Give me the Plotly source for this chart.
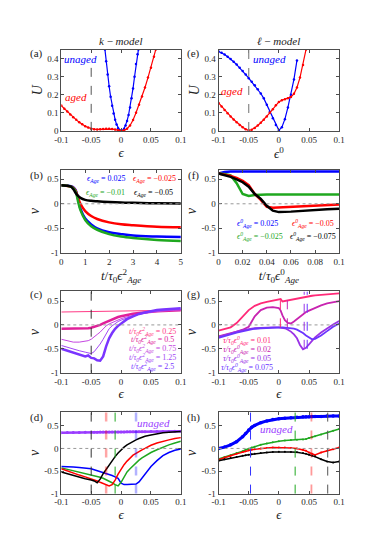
import plotly.graph_objects as go
from plotly.subplots import make_subplots

# ---------------- (a) k-model potential ----------------
eps_a_unaged = [-0.027, -0.025, -0.0225, -0.02, -0.0175, -0.015, -0.0125, -0.01, -0.0075, -0.005, -0.0025, 0.0,
                0.0025, 0.005, 0.0075, 0.01, 0.0125, 0.015, 0.0175, 0.02, 0.0225, 0.025, 0.0275, 0.029]
U_a_unaged = [0.45, 0.386, 0.312, 0.247, 0.189, 0.139, 0.096, 0.062, 0.035, 0.015, 0.004, 0.0,
              0.002, 0.012, 0.03, 0.055, 0.088, 0.13, 0.18, 0.235, 0.3, 0.37, 0.425, 0.45]
eps_a_aged = [-0.1, -0.095, -0.09, -0.085, -0.08, -0.075, -0.07, -0.065, -0.06, -0.055, -0.05, -0.045, -0.04,
              -0.035, -0.03, -0.025, -0.02, -0.015, -0.01, -0.005, 0.0, 0.005, 0.01, 0.015, 0.02, 0.025, 0.03,
              0.035, 0.04, 0.045, 0.05, 0.055, 0.058]
U_a_aged = [0.14, 0.123, 0.107, 0.09, 0.075, 0.061, 0.048, 0.036, 0.026, 0.018, 0.012, 0.009, 0.008,
            0.009, 0.011, 0.012, 0.012, 0.01, 0.007, 0.003, 0.001, 0.003, 0.012, 0.03, 0.06, 0.1, 0.145,
            0.19, 0.24, 0.295, 0.35, 0.41, 0.45]

# ---------------- (e) l-model potential ----------------
eps_e = [-0.1, -0.095, -0.09, -0.085, -0.08, -0.075, -0.07, -0.065, -0.06, -0.055, -0.05, -0.045, -0.04,
         -0.035, -0.03, -0.025, -0.02, -0.015, -0.01, -0.005, 0.0, 0.005, 0.01, 0.015, 0.02, 0.025, 0.03]
U_e_unaged = [0.44, 0.432, 0.423, 0.41, 0.398, 0.383, 0.367, 0.35, 0.332, 0.312, 0.292, 0.272, 0.252,
              0.23, 0.207, 0.18, 0.145, 0.105, 0.07, 0.032, 0.003, 0.02, 0.065, 0.13, 0.2, 0.285, 0.39]
eps_e_aged = [-0.1, -0.095, -0.09, -0.085, -0.08, -0.075, -0.07, -0.065, -0.06, -0.055, -0.05, -0.045, -0.04,
              -0.035, -0.03, -0.025, -0.02, -0.015, -0.01, -0.005, 0.0, 0.005, 0.01, 0.015, 0.02, 0.025, 0.03,
              0.035, 0.04, 0.045]
U_e_aged = [0.155, 0.135, 0.115, 0.097, 0.08, 0.063, 0.048, 0.033, 0.02, 0.009, 0.003, 0.006, 0.016,
            0.03, 0.045, 0.062, 0.08, 0.1, 0.12, 0.142, 0.16, 0.17, 0.175, 0.18, 0.188, 0.205, 0.24,
            0.295, 0.365, 0.45]

# ---------------- (b) nu vs time, k-model ----------------
t_b = [0, 0.2, 0.4, 0.5, 0.6, 0.7, 0.8, 1.0, 1.25, 1.5, 2, 2.5, 3, 4, 5]
nu_b = {
    '0.025': [0.38, 0.37, 0.36, 0.34, 0.28, 0.1, -0.1, -0.3, -0.42, -0.5, -0.58, -0.62, -0.65, -0.67, -0.68],
    '-0.025': [0.38, 0.37, 0.35, 0.33, 0.27, 0.12, 0.0, -0.15, -0.25, -0.31, -0.38, -0.42, -0.44, -0.47, -0.48],
    '-0.01': [0.38, 0.37, 0.35, 0.32, 0.25, 0.05, -0.13, -0.33, -0.46, -0.53, -0.62, -0.67, -0.7, -0.74, -0.76],
    '-0.05': [0.38, 0.37, 0.35, 0.3, 0.22, 0.16, 0.12, 0.08, 0.06, 0.05, 0.035, 0.025, 0.02, 0.01, 0.005],
}

# ---------------- (f) nu vs time, l-model ----------------
t_f = [0, 0.005, 0.01, 0.015, 0.02, 0.025, 0.03, 0.035, 0.04, 0.045, 0.05, 0.06, 0.07, 0.08, 0.09, 0.1]
nu_f = {
    '0.025': [0.62, 0.65, 0.66, 0.66, 0.66, 0.66, 0.66, 0.66, 0.66, 0.66, 0.66, 0.66, 0.66, 0.66, 0.66, 0.66],
    '-0.025': [0.62, 0.61, 0.58, 0.42, 0.2, 0.16, 0.18, 0.19, 0.19, 0.19, 0.19, 0.19, 0.19, 0.19, 0.19, 0.19],
    '-0.05': [0.62, 0.6, 0.57, 0.53, 0.47, 0.38, 0.2, 0.08, -0.06, -0.08, -0.075, -0.06, -0.045, -0.035, -0.025, -0.015],
    '-0.075': [0.62, 0.59, 0.55, 0.5, 0.44, 0.35, 0.2, 0.1, -0.04, -0.14, -0.17, -0.16, -0.14, -0.125, -0.11, -0.1],
}

# ---------------- (c) nu vs eps at several times, k-model ----------------
eps_c = [-0.1, -0.09, -0.08, -0.07, -0.06, -0.055, -0.05, -0.045, -0.04, -0.035, -0.03, -0.025, -0.02,
         -0.015, -0.01, -0.005, 0, 0.01, 0.02, 0.03, 0.04, 0.05, 0.06, 0.07, 0.08, 0.09, 0.1]
nu_c = {
    '0.25': [0.27, 0.272, 0.274, 0.276, 0.278, 0.279, 0.28, 0.281, 0.282, 0.283, 0.284, 0.285, 0.286,
             0.287, 0.288, 0.289, 0.29, 0.292, 0.294, 0.296, 0.298, 0.3, 0.302, 0.304, 0.306, 0.308, 0.31],
    '0.5': [-0.08, -0.08, -0.08, -0.078, -0.072, -0.068, -0.06, -0.045, -0.025, 0.0, 0.03, 0.06, 0.09,
            0.12, 0.145, 0.165, 0.18, 0.21, 0.235, 0.25, 0.265, 0.275, 0.285, 0.29, 0.295, 0.3, 0.305],
    '0.75': [-0.3, -0.33, -0.36, -0.36, -0.35, -0.33, -0.3, -0.24, -0.2, -0.15, -0.08, -0.02, 0.02,
             0.05, 0.08, 0.11, 0.13, 0.17, 0.2, 0.23, 0.25, 0.265, 0.28, 0.29, 0.3, 0.305, 0.31],
    '1.25': [-0.43, -0.47, -0.5, -0.54, -0.57, -0.59, -0.6, -0.56, -0.49, -0.4, -0.3, -0.18, -0.08,
             -0.02, 0.03, 0.07, 0.1, 0.15, 0.19, 0.22, 0.25, 0.27, 0.29, 0.3, 0.31, 0.32, 0.33],
    '2.5': [-0.5, -0.54, -0.58, -0.62, -0.66, -0.64, -0.69, -0.7, -0.74, -0.75, -0.66, -0.45, -0.28,
            -0.17, -0.08, -0.02, 0.03, 0.12, 0.18, 0.23, 0.26, 0.29, 0.31, 0.32, 0.33, 0.34, 0.35],
}

# ---------------- (g) nu vs eps at several times, l-model ----------------
eps_g = [-0.1, -0.09, -0.08, -0.07, -0.06, -0.05, -0.04, -0.03, -0.02, -0.01, 0, 0.003, 0.006, 0.01,
         0.015, 0.02, 0.025, 0.03, 0.035, 0.04, 0.045, 0.05, 0.055, 0.06, 0.07, 0.08, 0.09, 0.1]
nu_g = {
    '0.01': [-0.12, -0.09, -0.05, 0.04, 0.17, 0.31, 0.4, 0.45, 0.48, 0.5, 0.52, 0.54, 0.49, 0.5,
             0.51, 0.53, 0.55, 0.56, 0.57, 0.58, 0.59, 0.6, 0.61, 0.62, 0.63, 0.64, 0.65, 0.66],
    '0.02': [-0.24, -0.21, -0.17, -0.14, -0.1, -0.04, 0.18, 0.31, 0.36, 0.37, 0.35, 0.3, 0.2, 0.1,
             0.04, 0.03, 0.07, 0.12, 0.17, 0.22, 0.27, 0.3, 0.33, 0.36, 0.41, 0.45, 0.48, 0.5],
    '0.05': [-0.25, -0.22, -0.18, -0.14, -0.11, -0.09, -0.07, -0.06, -0.05, -0.05, -0.05, -0.055, -0.06, -0.07,
             -0.1, -0.14, -0.2, -0.28, -0.42, -0.51, -0.48, -0.4, -0.32, -0.26, -0.16, -0.07, 0.01, 0.08],
    '0.075': [-0.27, -0.24, -0.2, -0.16, -0.13, -0.1, -0.08, -0.07, -0.06, -0.05, -0.05, -0.05, -0.05, -0.055,
              -0.06, -0.07, -0.08, -0.1, -0.13, -0.17, -0.22, -0.27, -0.3, -0.29, -0.22, -0.13, -0.04, 0.03],
}
dash_g = [0.0025, 0.014, 0.042, 0.047]
dash_g_bottom = [-0.05, -0.05, -0.5, -0.5]

# ---------------- (d) nu vs eps after aging, k-model ----------------
eps_d = [-0.1, -0.09, -0.08, -0.07, -0.06, -0.05, -0.045, -0.04, -0.035, -0.03, -0.025, -0.02, -0.015, -0.01,
         -0.005, 0, 0.005, 0.01, 0.015, 0.02, 0.025, 0.03, 0.035, 0.04, 0.05, 0.06, 0.07, 0.08, 0.09, 0.1]
nu_d_unaged = [0.35, 0.352, 0.354, 0.356, 0.358, 0.36, 0.36, 0.361, 0.362, 0.362, 0.363, 0.364, 0.364, 0.365,
               0.366, 0.366, 0.367, 0.368, 0.368, 0.369, 0.37, 0.37, 0.371, 0.372, 0.373, 0.375, 0.376, 0.378, 0.379, 0.38]
nu_d = {
    '0.025': [-0.4, -0.4, -0.41, -0.42, -0.43, -0.45, -0.47, -0.49, -0.51, -0.53, -0.55, -0.57, -0.6, -0.63,
              -0.66, -0.77, -0.8, -0.8, -0.8, -0.8, -0.79, -0.74, -0.65, -0.57, -0.4, -0.27, -0.16, -0.09, -0.04, -0.01],
    '-0.01': [-0.43, -0.46, -0.49, -0.52, -0.55, -0.58, -0.6, -0.62, -0.64, -0.66, -0.69, -0.72, -0.76, -0.8,
              -0.83, -0.75, -0.62, -0.52, -0.45, -0.38, -0.32, -0.26, -0.21, -0.17, -0.09, -0.03, 0.03, 0.08, 0.12, 0.16],
    '-0.025': [-0.45, -0.5, -0.55, -0.59, -0.63, -0.67, -0.69, -0.72, -0.75, -0.78, -0.81, -0.83, -0.8, -0.7,
               -0.57, -0.45, -0.36, -0.28, -0.21, -0.15, -0.11, -0.06, -0.03, 0.0, 0.07, 0.12, 0.16, 0.19, 0.22, 0.24],
    '-0.05': [-0.52, -0.56, -0.6, -0.63, -0.67, -0.7, -0.72, -0.76, -0.68, -0.56, -0.46, -0.36, -0.27, -0.18,
              -0.1, -0.03, 0.03, 0.08, 0.12, 0.16, 0.19, 0.22, 0.25, 0.27, 0.3, 0.33, 0.35, 0.36, 0.37, 0.375],
}
dash_d = [-0.05, -0.025, -0.01, 0.025]

# ---------------- (h) nu vs eps after aging, l-model ----------------
eps_h = [-0.1, -0.09, -0.08, -0.07, -0.06, -0.055, -0.05, -0.045, -0.04, -0.03, -0.02, -0.01, 0, 0.01,
         0.02, 0.03, 0.04, 0.045, 0.05, 0.055, 0.06, 0.07, 0.08, 0.09, 0.1]
nu_h = {
    'unaged': [0.0, 0.03, 0.08, 0.15, 0.26, 0.33, 0.41, 0.47, 0.51, 0.57, 0.61, 0.64, 0.66, 0.67,
               0.68, 0.69, 0.7, 0.7, 0.7, 0.71, 0.71, 0.71, 0.72, 0.72, 0.72],
    '0.025': [-0.23, -0.19, -0.15, -0.1, -0.06, -0.03, -0.005, 0.02, 0.04, 0.08, 0.11, 0.14, 0.16, 0.175,
              0.185, 0.195, 0.2, 0.21, 0.23, 0.25, 0.27, 0.31, 0.35, 0.39, 0.43],
    '0.05': [-0.25, -0.2, -0.16, -0.12, -0.08, -0.06, -0.04, -0.03, -0.02, 0.0, 0.01, 0.02, 0.02, 0.02,
             0.01, 0.0, -0.03, -0.05, -0.09, -0.12, -0.145, -0.09, -0.05, -0.02, 0.02],
    '0.075': [-0.27, -0.24, -0.21, -0.19, -0.16, -0.15, -0.14, -0.13, -0.12, -0.1, -0.09, -0.08, -0.075, -0.075,
              -0.08, -0.085, -0.1, -0.12, -0.14, -0.16, -0.18, -0.24, -0.29, -0.31, -0.29],
}
dash_h = [-0.047, 0.027, 0.054, 0.081]

# tick labels
eps_ticks = [-0.1, -0.05, 0, 0.05, 0.1]
eps_ticktext = ['-0.1', '-0.05', '0', '0.05', '0.1']
nu_ticks = [-1, -0.5, 0, 0.5]
nu_ticktext = ['-1', '-0.5', '0', '0.5']
U_ticks = [0, 0.1, 0.2, 0.3, 0.4]
U_ticktext = ['0', '0.1', '0.2', '0.3', '0.4']
tb_ticks = [0, 1, 2, 3, 4, 5]
tf_ticks = [0, 0.02, 0.04, 0.06, 0.08, 0.1]
tf_ticktext = ['0', '0.02', '0.04', '0.06', '0.08', '0.1']

BLUE = '#0000ff'
RED = '#ff0000'
GREEN = '#1fa81f'
BLACK = '#000000'
PURPLE = '#9a3cff'
age_colors = {'0.025': BLUE, '-0.025': RED, '-0.01': GREEN, '-0.05': BLACK}
f_colors = {'0.025': BLUE, '-0.025': GREEN, '-0.05': RED, '-0.075': BLACK}
c_colors = {'0.25': '#ff3a85', '0.5': '#e0209a', '0.75': '#c446e0', '1.25': '#a347f5', '2.5': '#7a35ff'}
c_widths = {'0.25': 1, '0.5': 2.5, '0.75': 1, '1.25': 1, '2.5': 2.5}
g_colors = {'0.01': '#ff2a78', '0.02': '#c824b0', '0.05': '#9a33e6', '0.075': '#6b35ff'}
h_colors = {'unaged': BLUE, '0.025': GREEN, '0.05': RED, '0.075': BLACK}

fig = make_subplots(rows=4, cols=2)

# (a)
fig.add_trace(go.Scatter(x=eps_a_unaged, y=U_a_unaged, mode='lines+markers', line=dict(color=BLUE, width=1.2),
                         marker=dict(size=2.5, color=BLUE)), row=1, col=1)
fig.add_trace(go.Scatter(x=eps_a_aged, y=U_a_aged, mode='lines+markers', line=dict(color=RED, width=1.2),
                         marker=dict(size=2.5, color=RED)), row=1, col=1)
# (e)
fig.add_trace(go.Scatter(x=eps_e, y=U_e_unaged, mode='lines+markers', line=dict(color=BLUE, width=1.2),
                         marker=dict(size=2.5, color=BLUE)), row=1, col=2)
fig.add_trace(go.Scatter(x=eps_e_aged, y=U_e_aged, mode='lines+markers', line=dict(color=RED, width=1.2),
                         marker=dict(size=2.5, color=RED)), row=1, col=2)
# (b)
for k, v in nu_b.items():
    fig.add_trace(go.Scatter(x=t_b, y=v, mode='lines', line=dict(color=age_colors[k], width=2.5, shape='spline')),
                  row=2, col=1)
# (f)
for k, v in nu_f.items():
    fig.add_trace(go.Scatter(x=t_f, y=v, mode='lines', line=dict(color=f_colors[k], width=2.5)), row=2, col=2)
# (c)
for k, v in nu_c.items():
    fig.add_trace(go.Scatter(x=eps_c, y=v, mode='lines', line=dict(color=c_colors[k], width=c_widths[k])),
                  row=3, col=1)
# (g)
for k, v in nu_g.items():
    fig.add_trace(go.Scatter(x=eps_g, y=v, mode='lines', line=dict(color=g_colors[k], width=1.8)), row=3, col=2)
# (d)
fig.add_trace(go.Scatter(x=eps_d, y=nu_d_unaged, mode='lines+markers', line=dict(color=PURPLE, width=2.5),
                         marker=dict(size=3, color=PURPLE)), row=4, col=1)
for k, v in nu_d.items():
    fig.add_trace(go.Scatter(x=eps_d, y=v, mode='lines', line=dict(color=age_colors[k], width=1.5)), row=4, col=1)
# (h)
for k, v in nu_h.items():
    w = 3 if k == 'unaged' else 1.5
    fig.add_trace(go.Scatter(x=eps_h, y=v, mode='lines+markers', line=dict(color=h_colors[k], width=w),
                             marker=dict(size=w + 0.5, color=h_colors[k])), row=4, col=2)

# dotted zero lines
for r, c in [(2, 1), (2, 2), (3, 1), (3, 2), (4, 1), (4, 2)]:
    fig.add_hline(y=0, line=dict(color='#999999', width=1, dash='dot'), row=r, col=c)

# dashed verticals
fig.add_shape(type='line', x0=-0.05, x1=-0.05, y0=0, y1=0.35, line=dict(color='#555', width=1, dash='dash'),
              xref='x', yref='y')
fig.add_vline(x=-0.05, line=dict(color='#888', width=1.2, dash='dash'), row=1, col=2)
fig.add_vline(x=-0.05, line=dict(color='#333', width=1, dash='dash'), row=3, col=1)
for xv, yb, col in zip(dash_g, dash_g_bottom, g_colors.values()):
    fig.add_shape(type='line', x0=xv, x1=xv, y0=yb, y1=0.7, line=dict(color=col, width=1, dash='dash'),
                  xref='x6', yref='y6')
d_dash_colors = [('#333', 1), ('rgba(255,0,0,0.35)', 2.5), (GREEN, 1), ('rgba(0,0,255,0.3)', 2.5)]
for xv, (col, w) in zip(dash_d, d_dash_colors):
    fig.add_vline(x=xv, line=dict(color=col, width=w, dash='dash'), row=4, col=1)
h_dash_colors = [('#3333ff', 1), (GREEN, 1), ('rgba(255,0,0,0.4)', 1.8), ('#555', 1)]
for xv, (col, w) in zip(dash_h, h_dash_colors):
    fig.add_vline(x=xv, line=dict(color=col, width=w, dash='dash'), row=4, col=2)

# axes
axis_style = dict(showline=True, linecolor='#4d4d4d', linewidth=1, mirror='ticks', ticks='inside', ticklen=3,
                  tickcolor='#4d4d4d', showgrid=False, zeroline=False, tickfont=dict(size=9, color='#262626'))
xl = [0.129, 0.462]
xr = [0.567, 0.903]
rows_y = [[0.7774, 0.9246], [0.5566, 0.7074], [0.3393, 0.4865], [0.1203, 0.2675]]
for i in range(8):
    r, c = divmod(i, 2)
    fig.layout['xaxis%d' % (i + 1) if i else 'xaxis'].update(domain=xl if c == 0 else xr, **axis_style)
    fig.layout['yaxis%d' % (i + 1) if i else 'yaxis'].update(domain=rows_y[r], **axis_style)

eps_title = dict(text='<i>ϵ</i>', font=dict(size=13), standoff=2)
nu_title = dict(text='<i>ν</i>', font=dict(size=14), standoff=1)
fig.update_xaxes(range=[-0.1, 0.1], tickvals=eps_ticks, ticktext=eps_ticktext, title=eps_title)
fig.update_yaxes(range=[-1, 0.7], tickvals=nu_ticks, ticktext=nu_ticktext, title=nu_title)
fig.update_yaxes(range=[0, 0.45], tickvals=U_ticks, ticktext=U_ticktext,
                 title=dict(text='<i>U</i>', font=dict(size=14), standoff=1), row=1, col=1)
fig.update_yaxes(range=[0, 0.45], tickvals=U_ticks, ticktext=U_ticktext,
                 title=dict(text='<i>U</i>', font=dict(size=14), standoff=1), row=1, col=2)
fig.update_xaxes(title=dict(text='<i>ϵ</i><sup>0</sup>', font=dict(size=13), standoff=2), row=1, col=2)
fig.update_xaxes(range=[0, 5], tickvals=tb_ticks, ticktext=[str(v) for v in tb_ticks],
                 title=dict(text='<i>t</i>/<i>τ</i><sub>0</sub><i>ϵ</i><sup>2</sup><sub><i>Age</i></sub>',
                            font=dict(size=13), standoff=2), row=2, col=1)
fig.update_xaxes(range=[0, 0.1], tickvals=tf_ticks, ticktext=tf_ticktext,
                 title=dict(text='<i>t</i>/<i>τ</i><sub>0</sub><i>ϵ</i><sup>0</sup><sub><i>Age</i></sub>',
                            font=dict(size=13), standoff=2), row=2, col=2)
fig.update_yaxes(range=[-1, 0.8], row=4, col=1)
fig.update_yaxes(range=[-1, 0.8], row=4, col=2)


# text annotations
def note(text, x, y, color, xref, yref, size=9, italic=True):
    fig.add_annotation(text='<i>%s</i>' % text if italic else text, x=x, y=y, xref=xref, yref=yref,
                       xanchor='center', yanchor='middle', showarrow=False, font=dict(size=size, color=color))


note('unaged', -0.068, 0.4, BLUE, 'x', 'y', size=11)
note('aged', -0.076, 0.19, RED, 'x', 'y', size=11)
note('unaged', -0.016, 0.4, BLUE, 'x2', 'y2', size=11)
note('aged', -0.078, 0.22, RED, 'x2', 'y2', size=11)

b_pos = {'0.025': (1.85, 0.5), '-0.025': (3.9, 0.5), '-0.01': (1.85, 0.23), '-0.05': (3.85, 0.23)}
for k, (x, y) in b_pos.items():
    note('ϵ<sub>Age</sub></i> = %s<i>' % k.replace('-', '−'), x, y, age_colors[k], 'x3', 'y3', size=8)
f_pos = {'0.025': (0.0325, -0.4), '-0.05': (0.078, -0.4), '-0.025': (0.0345, -0.66), '-0.075': (0.078, -0.66)}
for k, (x, y) in f_pos.items():
    note('ϵ<sup>0</sup><sub>Age</sub></i> = %s<i>' % k.replace('-', '−'), x, y, f_colors[k], 'x4', 'y4', size=8)
c_y = {'0.25': -0.13, '0.5': -0.31, '0.75': -0.5, '1.25': -0.69, '2.5': -0.88}
for k, y in c_y.items():
    note('t/τ<sub>0</sub>ϵ<sup>2</sup><sub>Age</sub></i> = %s<i>' % k, 0.052, y, c_colors[k], 'x5', 'y5', size=8)
g_y = {'0.01': -0.33, '0.02': -0.51, '0.05': -0.7, '0.075': -0.89}
for k, y in g_y.items():
    note('τ/τ<sub>0</sub>ϵ<sup>0</sup><sub>Age</sub></i> = %s<i>' % k, -0.053, y, g_colors[k], 'x6', 'y6', size=8)
note('unaged', 0.055, 0.57, PURPLE, 'x7', 'y7', size=11)
note('unaged', -0.004, 0.42, PURPLE, 'x8', 'y8', size=11)

# titles and panel labels
for text, x in [('<i>k</i> − <i>model</i>', 110 / 372), ('<i>ℓ</i> − <i>model</i>', 273 / 372)]:
    fig.add_annotation(text=text, x=x, y=1 - 33 / 557, xref='paper', yref='paper', showarrow=False,
                       xanchor='center', yanchor='middle', font=dict(size=11, color='#222'))
labels = [('(a)', 22, 46), ('(b)', 22, 169), ('(c)', 22, 289), ('(d)', 22, 413),
          ('(e)', 185, 46), ('(f)', 185, 169), ('(g)', 185, 289), ('(h)', 185, 413)]
for text, px, py in labels:
    fig.add_annotation(text=text, x=px / 372, y=1 - py / 557, xref='paper', yref='paper', showarrow=False,
                       xanchor='center', yanchor='middle', font=dict(size=11, color='#222'))

fig.update_layout(width=372, height=557, margin=dict(l=0, r=0, t=0, b=0), showlegend=False,
                  plot_bgcolor='white', paper_bgcolor='white',
                  font=dict(family='Liberation Serif', color='#222'))

fig.write_html("out.html")
